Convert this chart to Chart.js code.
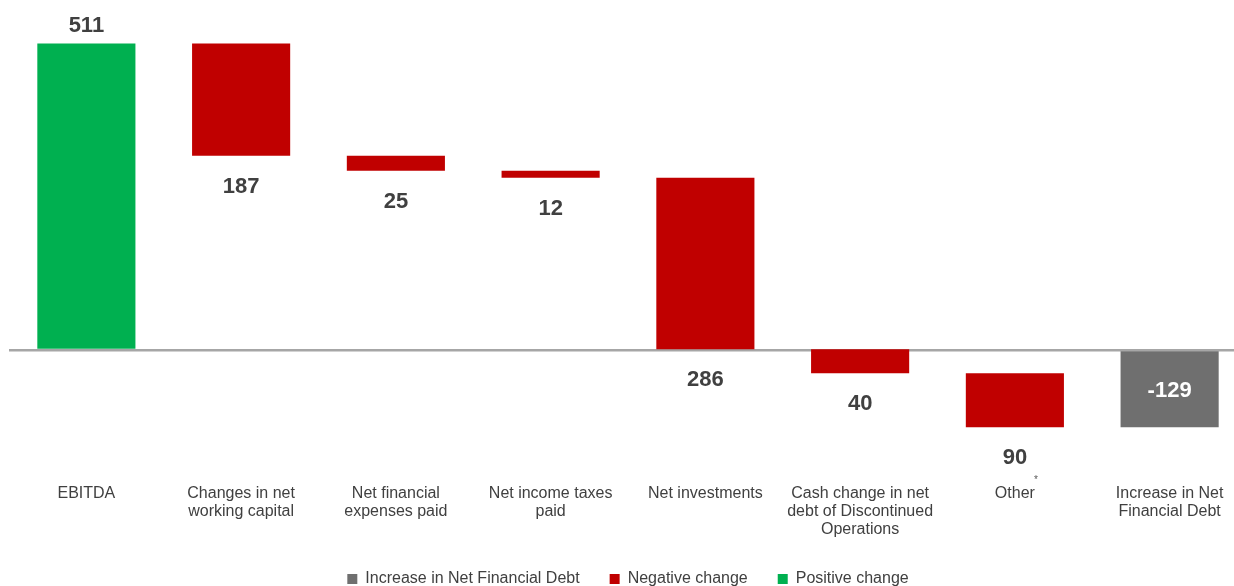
<!DOCTYPE html>
<html>
<head>
<meta charset="utf-8">
<script src="https://cdn.jsdelivr.net/npm/chart.js@4.4.1/dist/chart.umd.min.js"></script>
<style>
  html, body { margin: 0; padding: 0; background: #fff; overflow: hidden; }
  #wrap { width: 1248px; height: 586px; position: relative; }
</style>
</head>
<body>
<div id="wrap"><canvas id="c"></canvas></div>
<script>
// categories + values
const categories = [
  ['EBITDA'],
  ['Changes in net', 'working capital'],
  ['Net financial', 'expenses paid'],
  ['Net income taxes', 'paid'],
  ['Net investments'],
  ['Cash change in net', 'debt of Discontinued', 'Operations'],
  ['Other'],
  ['Increase in Net', 'Financial Debt']
];
const changes = [511, -187, -25, -12, -286, -40, -90];
const total = -129;
const seriesNames = ['Increase in Net Financial Debt', 'Negative change', 'Positive change'];

// build floating bars [from, to]
const positive = [], negative = [], increase = [];
let run = 0;
changes.forEach(v => {
  const bar = [run, run + v];
  run += v;
  if (v >= 0) { positive.push(bar); negative.push(null); }
  else { negative.push(bar); positive.push(null); }
  increase.push(null);
});
positive.push(null); negative.push(null); increase.push([0, total]);

const labelValue = i => i === changes.length ? String(total) : String(Math.abs(changes[i]));

const valueLabels = {
  id: 'valueLabels',
  afterDatasetsDraw(chart) {
    const ctx = chart.ctx;
    ctx.save();
    ctx.font = 'bold 22px "Liberation Sans", Arial, sans-serif';
    ctx.textAlign = 'center';
    ctx.textBaseline = 'middle';
    chart.data.datasets.forEach((ds, di) => {
      const meta = chart.getDatasetMeta(di);
      meta.data.forEach((el, i) => {
        if (ds.data[i] == null) return;
        const top = Math.min(el.y, el.base), bottom = Math.max(el.y, el.base);
        if (ds.kind === 'total') {
          ctx.fillStyle = '#ffffff';
          ctx.fillText(labelValue(i), el.x, (top + bottom) / 2 + 2);
        } else if (ds.kind === 'pos') {
          ctx.fillStyle = '#404040';
          ctx.fillText(labelValue(i), el.x, top - 18);
        } else {
          ctx.fillStyle = '#404040';
          ctx.fillText(labelValue(i), el.x, bottom + 31);
        }
      });
    });
    // little asterisk next to "Other"
    const x = chart.scales.x.getPixelForValue(6);
    ctx.font = '10px "Liberation Sans", Arial, sans-serif';
    ctx.fillStyle = '#595959';
    ctx.fillText('*', x + 21, 480);
    ctx.restore();
  }
};

new Chart(document.getElementById('c'), {
  type: 'bar',
  data: {
    labels: categories,
    datasets: [
      { label: seriesNames[0], data: increase, backgroundColor: '#6f6f6f', kind: 'total' },
      { label: seriesNames[1], data: negative, backgroundColor: '#c00000', kind: 'neg' },
      { label: seriesNames[2], data: positive, backgroundColor: '#00b050', kind: 'pos' }
    ]
  },
  options: {
    responsive: true,
    maintainAspectRatio: false,
    animation: false,
    layout: { padding: { left: 9, right: 1, top: 10, bottom: 0 } },
    datasets: { bar: { grouped: false, barPercentage: 0.634, categoryPercentage: 1, clip: false } },
    scales: {
      x: {
        grid: { display: false },
        border: { display: false },
        ticks: {
          color: '#404040',
          font: { family: '"Liberation Sans", Arial, sans-serif', size: 16, lineHeight: 1.12 },
          padding: 0,
          maxRotation: 0,
          autoSkip: false
        },
        afterFit: s => { s.height = 64; }
      },
      y: {
        min: -212,
        max: 567,
        display: true,
        ticks: { display: false },
        border: { display: false },
        grid: {
          drawTicks: false,
          color: c => c.tick.value === 0 ? '#a6a6a6' : 'transparent',
          lineWidth: c => c.tick.value === 0 ? 2.5 : 0
        },
        afterBuildTicks: s => { s.ticks = [{ value: 0 }]; }
      }
    },
    plugins: {
      legend: {
        position: 'bottom',
        maxHeight: 45,
        labels: {
          boxWidth: 10,
          boxHeight: 10,
          padding: 30,
          color: '#404040',
          font: { family: '"Liberation Sans", Arial, sans-serif', size: 16 }
        }
      },
      tooltip: { enabled: false }
    }
  },
  plugins: [valueLabels]
});
</script>
</body>
</html>
